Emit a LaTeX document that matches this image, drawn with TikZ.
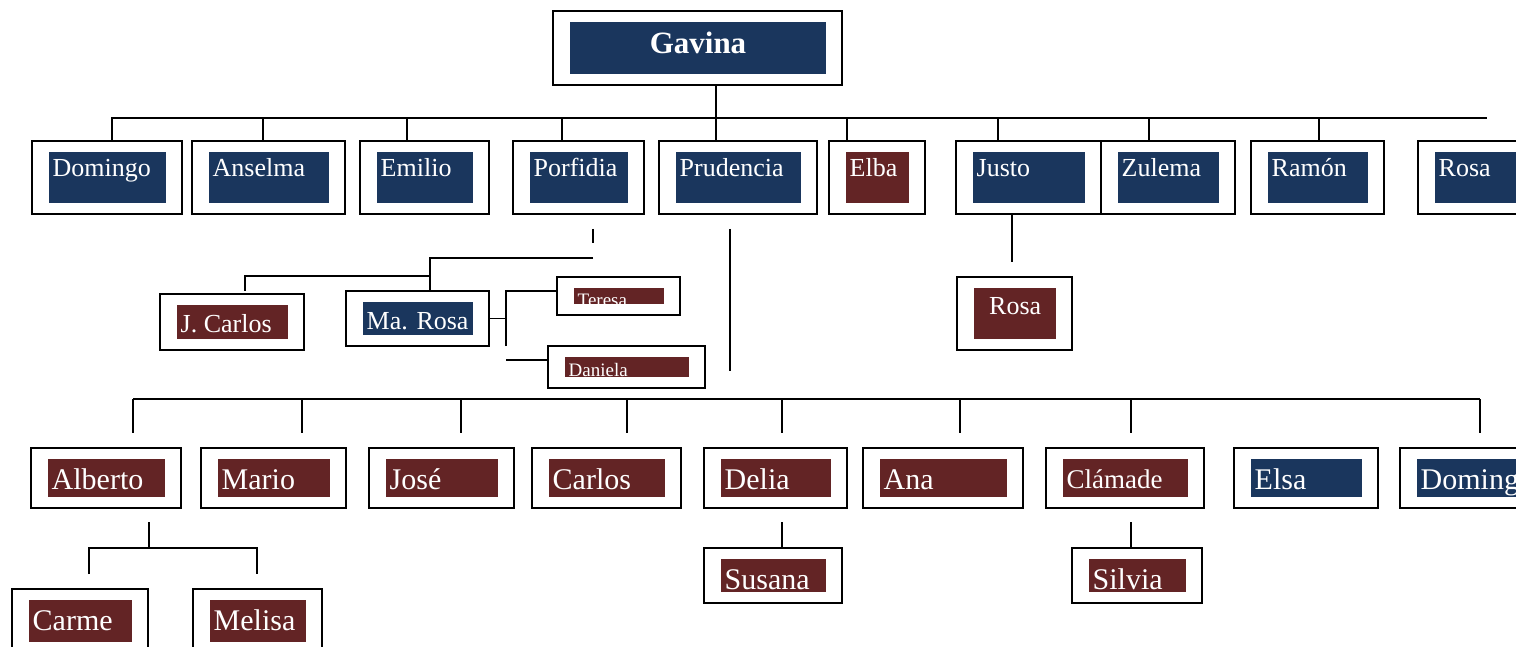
\documentclass[tikz,border=0pt]{standalone}
\usepackage{fontspec}
\setmainfont{Liberation Serif}
\definecolor{navy}{HTML}{1A365D}
\definecolor{maroon}{HTML}{632425}
\tikzset{
  outerbox/.style={draw=black, line width=2pt, fill=white, inner sep=0pt, rectangle},
  innerbox/.style={inner sep=0pt, rectangle, draw=none},
  nametext/.style={text=white, inner sep=0pt, anchor=base west},
  conn/.style={line width=1.8pt, line cap=butt},
}
% name, x1, y1, x2, y2, colour, font size, baseline, text
\newcommand\pers[9]{%
  \node[outerbox, minimum width={#4-#2}, minimum height={#5-#3}] (#1) at ({(#2+#4)/2},{(#3+#5)/2}) {};
  \node[innerbox, fill=#6, minimum width={#4-#2-33}, minimum height={#5-#3-22}] (#1-in) at (#1.center) {};
  \node[nametext, font=\fontsize{#7}{#7}\selectfont] (#1-t) at ({#2+20.5},#8) {#9};
}
\begin{document}
\begin{tikzpicture}[x=1pt, y=-1pt]
\clip (0,0) rectangle (1516,647);
\fill[white] (0,0) rectangle (1516,647);

% ---- Gavina
\node[outerbox, minimum width=289, minimum height=74] (gavina) at (697.5,48) {};
\node[innerbox, fill=navy, minimum width=256, minimum height=52] (gavina-in) at (gavina.center) {};
\node[text=white, inner sep=0pt, anchor=base, font=\bfseries\fontsize{31}{31}\selectfont] (gavina-t) at (698,54) {Gavina};

% ---- top row
\pers{domingo}{32}{141}{182}{214}{navy}{26}{177}{Domingo}
\pers{anselma}{192}{141}{345}{214}{navy}{26}{177}{Anselma}
\pers{emilio}{360}{141}{489}{214}{navy}{26}{177}{Emilio}
\pers{porfidia}{513}{141}{644}{214}{navy}{26}{177}{Porfidia}
\pers{prudencia}{659}{141}{817}{214}{navy}{26}{177}{Prudencia}
\pers{elba}{829}{141}{925}{214}{maroon}{26}{177}{Elba}
\pers{justo}{956}{141}{1101}{214}{navy}{26}{177}{Justo}
\pers{zulema}{1101}{141}{1235}{214}{navy}{26}{177}{Zulema}
\pers{ramon}{1251}{141}{1384}{214}{navy}{26}{177}{Ramón}
\pers{rosa}{1418}{141}{1560}{214}{navy}{26}{177}{Rosa}

% ---- top bus
\coordinate (tbL) at (111,118);
\coordinate (tbR) at (1487,118);
\draw[conn] (tbL) -- (tbR);
\coordinate (gv) at (716,118);
\draw[conn] (gavina.south -| gv) -- (gv |- prudencia.north);
\foreach \x/\n in {112/domingo, 263/anselma, 407/emilio, 562/porfidia, 847/elba, 998/justo, 1149/zulema, 1319/ramon}{
  \coordinate (tk) at (\x,118);
  \draw[conn] (tk) -- (tk |- \n.north);
}

% ---- Porfidia's family
\pers{jcarlos}{160}{294}{304}{350}{maroon}{26}{332}{J. Carlos}
\pers{marosa}{346}{291}{489}{346}{navy}{26}{329}{Ma. Rosa}
\pers{teresa}{557}{277}{680}{315}{maroon}{19}{306}{Teresa}
\pers{daniela}{548}{346}{705}{388}{maroon}{19}{376}{Daniela}
\coordinate (pf1) at (593,229);
\coordinate (pf2) at (593,243);
\draw[conn] (pf1) -- (pf2);
\coordinate (pf3) at (593,258);
\coordinate (mr) at (430,258);
\draw[conn] (pf3) -- (mr) -- (mr |- marosa.north);
\coordinate (jcR) at (430,276);
\coordinate (jcL) at (245,276);
\coordinate (jcT) at (245,291);
\draw[conn] (jcR) -- (jcL) -- (jcT);
\coordinate (mrE) at (506,318.5);
\draw[conn] (marosa.east) -- (mrE);
\coordinate (mrv1) at (506,291);
\coordinate (mrv2) at (506,346);
\draw[conn] (mrv2) -- (mrv1) -- (mrv1 -| teresa.west);
\coordinate (dn) at (506,360);
\draw[conn] (dn) -- (dn -| daniela.west);

% ---- Prudencia's line
\coordinate (pr1) at (730,229);
\coordinate (pr2) at (730,371);
\draw[conn] (pr1) -- (pr2);

% ---- Justo's child
\node[outerbox, minimum width=115, minimum height=73] (rosa2) at (1014.5,313.5) {};
\node[innerbox, fill=maroon, minimum width=82, minimum height=51] (rosa2-in) at (rosa2.center) {};
\node[nametext, font=\fontsize{26}{26}\selectfont] (rosa2-t) at (989,314) {Rosa};
\coordinate (js1) at (1012,214);
\coordinate (js2) at (1012,262);
\draw[conn] (js1) -- (js2);

% ---- bottom row (Prudencia's children)
\pers{alberto}{31}{448}{181}{508}{maroon}{30}{489}{Alberto}
\pers{mario}{201}{448}{346}{508}{maroon}{30}{489}{Mario}
\pers{jose}{369}{448}{514}{508}{maroon}{30}{489}{José}
\pers{carlos}{532}{448}{681}{508}{maroon}{30}{489}{Carlos}
\pers{delia}{704}{448}{847}{508}{maroon}{30}{489}{Delia}
\pers{ana}{863}{448}{1023}{508}{maroon}{30}{489}{Ana}
\pers{clamade}{1046}{448}{1204}{508}{maroon}{27}{488}{Clámade}
\pers{elsa}{1234}{448}{1378}{508}{navy}{30}{489}{Elsa}
\pers{domingo2}{1400}{448}{1560}{508}{navy}{30}{489}{Domingo}

\coordinate (bbL) at (133,399);
\coordinate (bbR) at (1480,399);
\draw[conn] (bbL) -- (bbR);
\foreach \x in {133, 302, 461, 627, 782, 960, 1131, 1480}{
  \coordinate (bt) at (\x,399);
  \coordinate (bb) at (\x,433);
  \draw[conn] (bt) -- (bb);
}

% ---- grandchildren
\pers{carme}{12}{589}{148}{653}{maroon}{30}{630}{Carme}
\pers{melisa}{193}{589}{322}{653}{maroon}{30}{630}{Melisa}
\pers{susana}{704}{548}{842}{603}{maroon}{30}{589}{Susana}
\pers{silvia}{1072}{548}{1202}{603}{maroon}{30}{589}{Silvia}

\coordinate (al1) at (149,522);
\coordinate (al2) at (149,548);
\draw[conn] (al1) -- (al2);
\coordinate (alL) at (89,548);
\coordinate (alR) at (257,548);
\coordinate (alLb) at (89,574);
\coordinate (alRb) at (257,574);
\draw[conn] (alLb) -- (alL) -- (alR) -- (alRb);
\coordinate (de1) at (782,522);
\draw[conn] (de1) -- (de1 |- susana.north);
\coordinate (cl1) at (1131,522);
\draw[conn] (cl1) -- (cl1 |- silvia.north);
\end{tikzpicture}
\end{document}
